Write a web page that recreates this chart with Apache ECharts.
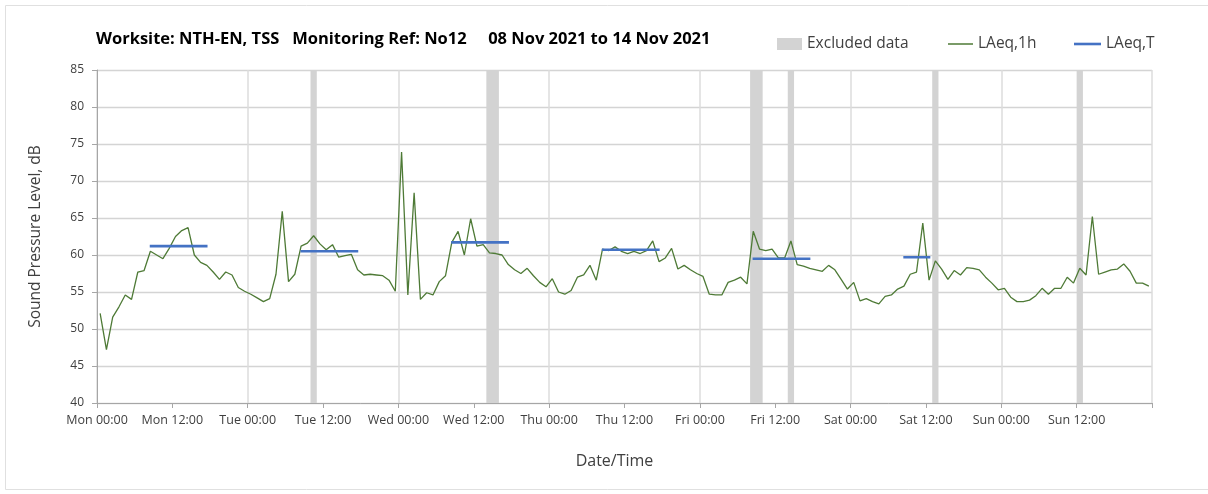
<!DOCTYPE html>
<html><head><meta charset="utf-8">
<script src="https://cdn.jsdelivr.net/npm/echarts@6/dist/echarts.min.js"></script>
<style>html,body{margin:0;padding:0;background:#fff}#c{width:1208px;height:494px}</style>
</head><body><div id="c"></div>
<script>
const tickLabels = ['Mon 00:00','Mon 12:00','Tue 00:00','Tue 12:00','Wed 00:00','Wed 12:00','Thu 00:00','Thu 12:00','Fri 00:00','Fri 12:00','Sat 00:00','Sat 12:00','Sun 00:00','Sun 12:00',''];
// hourly LAeq,1h values, Mon 00:00 .. Sun 23:00
const laeq1h = [
 52.1,47.2,51.6,53.0,54.6,54.0,57.7,57.9,60.5,60.0,59.5,60.9,62.5,63.3,63.7,60.0,59.0,58.6,57.7,56.7,57.7,57.3,
 55.6,55.1,54.7,54.2,53.7,54.1,57.4,65.9,56.4,57.4,61.2,61.6,62.6,61.5,60.7,61.4,59.7,59.9,60.1,58.0,57.3,
 57.4,57.3,57.2,56.6,55.1,73.9,54.6,68.4,54.0,54.9,54.6,56.4,57.2,61.7,63.2,60.0,64.9,61.2,61.4,60.3,60.2,60.0,
 58.7,58.0,57.5,58.2,57.2,56.3,55.7,56.8,55.0,54.7,55.2,57.0,57.3,58.6,56.6,60.8,60.6,61.1,60.5,60.2,
 60.5,60.2,60.6,61.9,59.1,59.6,60.9,58.1,58.6,58.0,57.5,57.1,54.7,54.6,54.6,56.3,56.6,57.0,56.1,63.2,60.8,
 60.6,60.8,59.6,59.6,61.9,58.7,58.5,58.2,58.0,57.8,58.6,58.0,56.7,55.4,56.3,53.8,54.1,53.7,53.4,54.4,54.6,55.4,
 55.8,57.4,57.7,64.3,56.6,59.2,58.1,56.7,57.9,57.3,58.3,58.2,58.0,57.0,56.2,55.3,55.5,54.3,53.7,53.7,53.9,54.5,
 55.5,54.7,55.5,55.5,57.0,56.2,58.2,57.3,65.2,57.4,57.7,58.0,58.1,58.8,57.8,56.2,56.2,55.8
];
// excluded periods (hours from Mon 00:00)
const excludedStart = [34, 62, 104, 110, 133, 156];
const excludedEnd   = [35, 64, 106, 111, 134, 157];
// LAeq,T periods
const laeqTStart = [8.4, 32.4, 56.4, 80.4, 104.4, 128.4];
const laeqTEnd   = [17.6, 41.6, 65.6, 89.6, 113.6, 132.7];
const laeqTValue = [61.2, 60.5, 61.7, 60.7, 59.5, 59.7];

const FONT = 'Open Sans';
const GREEN = '#4e7a36', BLUE = '#4472c4', GREY = '#d3d3d3';
const lineData = laeq1h.map((v, i) => [i + 0.5, v]);
const exclData = excludedStart.map((s, i) => [s, excludedEnd[i]]);

const series = [
  {
    name: 'Excluded data', type: 'custom', xAxisIndex: 0, z: 1,
    itemStyle: { color: GREY },
    data: exclData,
    renderItem: function (params, api) {
      const p0 = api.coord([api.value(0), 85]);
      const p1 = api.coord([api.value(1), 40]);
      return { type: 'rect', shape: { x: p0[0], y: p0[1], width: p1[0] - p0[0], height: p1[1] - p0[1] },
               style: { fill: GREY } };
    },
    encode: { x: [0, 1] }
  },
  {
    name: 'LAeq,1h', type: 'line', xAxisIndex: 0, z: 3, symbol: 'none',
    lineStyle: { color: GREEN, width: 1.3 }, itemStyle: { color: GREEN },
    data: lineData
  }
];
laeqTStart.forEach((s, i) => {
  series.push({
    name: 'LAeq,T', type: 'line', xAxisIndex: 0, z: 4, symbol: 'none',
    lineStyle: { color: BLUE, width: 2.6 }, itemStyle: { color: BLUE },
    data: [[s, laeqTValue[i]], [laeqTEnd[i], laeqTValue[i]]]
  });
});

const legendText = { fontFamily: FONT, fontSize: 15.5, color: '#404040' };
const chart = echarts.init(document.getElementById('c'));
chart.setOption({
  animation: false,
  backgroundColor: '#fff',
  textStyle: { fontFamily: FONT },
  title: {
    text: 'Worksite: NTH-EN, TSS   Monitoring Ref: No12     08 Nov 2021 to 14 Nov 2021',
    left: 96, top: 31, padding: 0,
    textStyle: { fontFamily: FONT, fontSize: 16.5, fontWeight: 'bold', color: '#000' }
  },
  legend: [
    { left: 777, top: 36, padding: 0, itemWidth: 25, itemHeight: 12, textStyle: legendText,
      data: [{ name: 'Excluded data', icon: 'rect', itemStyle: { color: GREY } }] },
    { left: 948, top: 36, padding: 0, itemWidth: 25, itemHeight: 1.5, textStyle: legendText,
      data: [{ name: 'LAeq,1h', icon: 'rect', itemStyle: { color: GREEN } }] },
    { left: 1074, top: 36, padding: 0, itemWidth: 27, itemHeight: 2.6, textStyle: legendText,
      data: [{ name: 'LAeq,T', icon: 'rect', itemStyle: { color: BLUE } }] }
  ],
  grid: { left: 97, right: 56, top: 70, bottom: 91 },
  xAxis: [
    { type: 'value', min: 0, max: 168, interval: 12,
      name: 'Date/Time', nameLocation: 'middle', nameGap: 50,
      nameTextStyle: { fontFamily: FONT, fontSize: 16, color: '#404040', padding: [0, 20, 0, 0] },
      axisLine: { lineStyle: { color: '#a6a6a6' } },
      axisTick: { show: true, length: 5, lineStyle: { color: '#a6a6a6' } },
      axisLabel: { fontFamily: FONT, fontSize: 12.5, color: '#404040', margin: 11,
                   formatter: v => tickLabels[Math.round(v / 12)] || '' },
      splitLine: { show: false } },
    { type: 'value', min: 0, max: 168, interval: 24, position: 'bottom',
      axisLine: { show: false }, axisTick: { show: false }, axisLabel: { show: false },
      splitLine: { show: true, lineStyle: { color: '#dcdcdc', width: 1.5 } } }
  ],
  yAxis: {
    type: 'value', min: 40, max: 85, interval: 5,
    name: 'Sound Pressure Level, dB', nameLocation: 'middle', nameGap: 53, nameRotate: 90,
    nameTextStyle: { fontFamily: FONT, fontSize: 15.5, color: '#404040' },
    axisLine: { show: true, lineStyle: { color: '#a6a6a6' } },
    axisTick: { show: true, length: 5, lineStyle: { color: '#a6a6a6' } },
    axisLabel: { fontFamily: FONT, fontSize: 12, color: '#404040', margin: 13 },
    splitLine: { show: true, lineStyle: { color: '#d4d4d4', width: 1.3 } }
  },
  graphic: [
    { type: 'rect', shape: { x: 5.5, y: 5.5, width: 1210, height: 484 }, style: { fill: 'none', stroke: '#e0e0e0', lineWidth: 1 }, z: -1, silent: true }
  ],
  series: series
});
</script></body></html>
